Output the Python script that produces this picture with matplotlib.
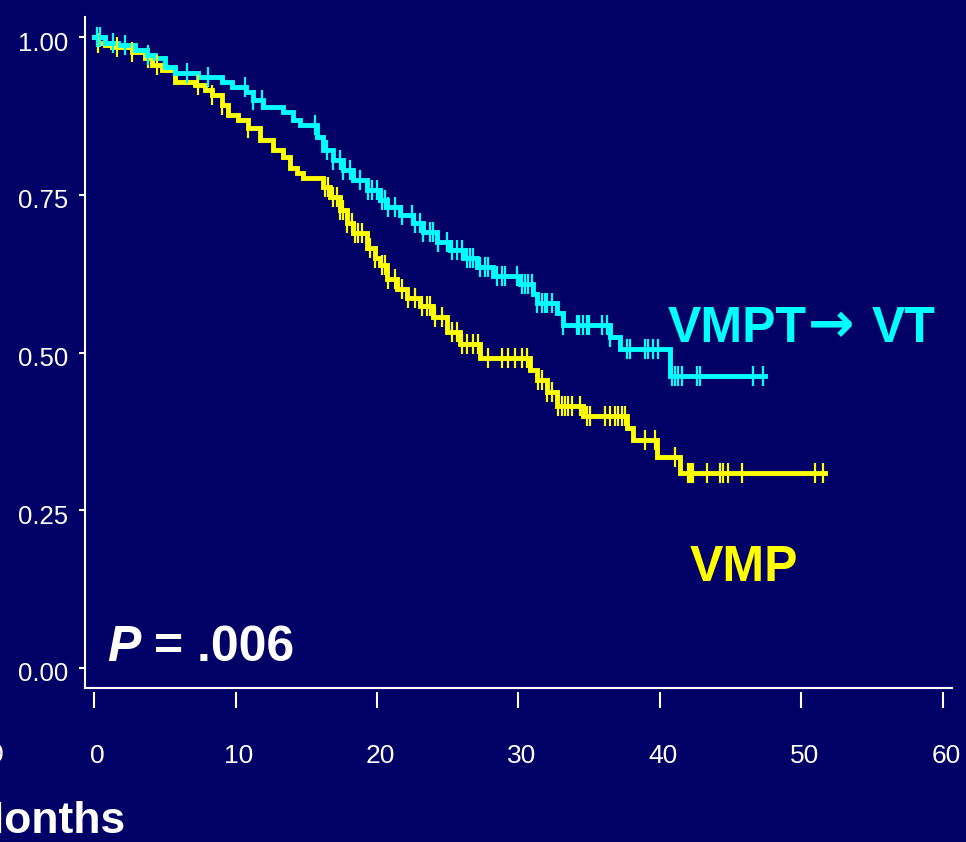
import numpy as np
import matplotlib.pyplot as plt
from matplotlib.transforms import ScaledTranslation

plt.rcParams['font.family'] = ['Liberation Sans', 'DejaVu Sans']

# VMPT -> VT arm: step times (months) and survival after each step
vmpt_times = [0, 0.78, 1.70, 2.90, 3.75, 4.31, 5.02, 5.72, 7.35, 9.05, 9.75, 10.74,
              11.24, 11.94, 13.36, 14.06, 14.56, 15.76, 16.18, 16.89, 17.60, 18.30,
              19.29, 20.21, 20.71, 21.63, 22.54, 23.25, 24.24, 25.16, 26.08, 27.07,
              28.20, 30.11, 31.02, 31.31, 32.72, 33.14, 36.47, 37.17, 40.71]
vmpt_surv = [1.0, 0.990, 0.987, 0.979, 0.972, 0.967, 0.953, 0.943, 0.937, 0.929, 0.921, 0.913,
             0.900, 0.889, 0.881, 0.869, 0.861, 0.842, 0.821, 0.805, 0.790, 0.774,
             0.758, 0.742, 0.731, 0.718, 0.706, 0.691, 0.676, 0.663, 0.650, 0.636,
             0.622, 0.608, 0.592, 0.579, 0.563, 0.544, 0.525, 0.505, 0.462]
vmpt_end = 47.42
vmpt_censor = [0.21, 0.42, 1.34, 2.19, 3.82, 6.57, 8.06, 10.67, 11.24, 11.87, 15.62, 16.47,
               16.89, 17.39, 17.60, 18.09, 18.80, 19.36, 19.65, 20.00, 20.35, 20.57, 20.78,
               21.27, 21.77, 22.47, 22.69, 23.04, 23.25, 23.75, 23.96, 24.31, 24.95, 25.30,
               25.65, 26.01, 26.36, 26.57, 26.78, 27.28, 27.63, 27.84, 28.48, 28.83, 29.05,
               29.89, 30.25, 30.46, 30.67, 30.95, 31.31, 31.66, 31.87, 32.01, 32.37, 33.14,
               34.13, 34.28, 34.56, 34.84, 34.98, 35.90, 36.25, 36.47, 37.67, 37.88, 38.94,
               39.15, 39.51, 39.86, 40.85, 41.06, 41.27, 41.55, 42.61, 42.83, 46.57, 47.28]

# VMP arm
vmp_times = [0, 0.28, 0.78, 1.27, 2.69, 3.60, 4.10, 4.81, 5.72, 7.14, 7.84, 8.34, 9.05,
             9.47, 10.18, 10.88, 11.73, 12.65, 13.36, 13.85, 14.35, 14.77, 16.18, 16.68,
             17.39, 17.88, 18.30, 19.29, 19.86, 20.21, 20.71, 21.41, 22.12, 23.04, 23.96,
             24.95, 25.87, 27.28, 30.81, 31.31, 32.01, 32.72, 34.56, 37.67, 38.09, 39.79,
             41.41]
vmp_surv = [1.0, 0.990, 0.987, 0.984, 0.976, 0.967, 0.956, 0.948, 0.929, 0.924, 0.916,
            0.908, 0.892, 0.877, 0.869, 0.856, 0.837, 0.821, 0.810, 0.793, 0.785, 0.777,
            0.763, 0.747, 0.726, 0.706, 0.690, 0.666, 0.650, 0.639, 0.616, 0.600, 0.587,
            0.573, 0.557, 0.532, 0.513, 0.492, 0.473, 0.457, 0.438, 0.415, 0.399, 0.381,
            0.362, 0.335, 0.309]
vmp_end = 51.66
vmp_censor = [0.28, 1.63, 2.69, 3.82, 4.45, 7.35, 8.34, 9.05, 10.88, 16.33, 16.54, 16.89,
              17.17, 17.39, 17.60, 17.88, 18.23, 18.45, 18.66, 18.94, 19.51, 19.86, 20.35,
              20.57, 20.78, 21.27, 21.77, 22.19, 22.69, 23.18, 23.53, 23.75, 24.10, 24.59,
              25.30, 25.65, 26.01, 26.36, 26.78, 27.14, 27.84, 28.83, 29.26, 29.75, 30.25,
              30.60, 31.38, 31.66, 32.01, 32.37, 32.79, 33.07, 33.29, 33.50, 33.78, 34.35,
              34.84, 35.05, 36.11, 36.47, 36.82, 37.03, 37.31, 37.53, 38.94, 39.65, 41.06,
              41.98, 42.12, 42.26, 42.33, 43.32, 44.24, 44.45, 44.81, 45.80, 50.95, 51.52]

x_ticks = [0, 10, 20, 30, 40, 50, 60]
y_ticks = [0.0, 0.25, 0.50, 0.75, 1.0]
y_labels = ['0.00', '0.25', '0.50', '0.75', '1.00']

bg = '#000066'
fig = plt.figure(figsize=(9.66, 8.42), dpi=100, facecolor=bg)
ax = fig.add_axes([85 / 966, 154 / 842, 867 / 966, 671 / 842], facecolor=bg)


def km_curve(times, surv, end, censor, color):
    t = np.append(times, end)
    s = np.append(surv, surv[-1])
    ax.step(t, s, where='post', color=color, lw=3.5, solid_joinstyle='miter', zorder=3)
    idx = np.searchsorted(times, censor, side='right') - 1
    ax.plot(censor, np.asarray(surv)[idx], ls='none', marker='|', ms=15, mew=1.6,
            color=color, zorder=4)


km_curve(vmp_times, vmp_surv, vmp_end, vmp_censor, '#ffff00')
km_curve(vmpt_times, vmpt_surv, vmpt_end, vmpt_censor, '#00ffff')

ax.set_xlim(-0.64, 60.64)
ax.set_ylim(-0.032, 1.032)

for side in ['top', 'right']:
    ax.spines[side].set_visible(False)
ax.spines['left'].set_color('white')
ax.spines['left'].set_linewidth(1.5)
# x ticks hang slightly below the baseline
ax.spines['bottom'].set_position(('outward', 3))
ax.spines['bottom'].set_visible(False)
ax.plot([0, 1], [0, 0], transform=ax.transAxes, color='white', lw=1.5, clip_on=False)

ax.set_yticks(y_ticks)
ax.set_yticklabels(y_labels)
ax.set_xticks(x_ticks)
ax.tick_params(axis='y', colors='white', length=4, width=1.5, pad=8, labelsize=18.5)
ax.tick_params(axis='x', colors='white', length=11.5, width=1.5, pad=26, labelsize=19)
for lab in ax.get_yticklabels():
    lab.set_transform(lab.get_transform() + ScaledTranslation(0, -0.04, fig.dpi_scale_trans))
for lab in ax.get_xticklabels():
    lab.set_transform(lab.get_transform() + ScaledTranslation(0.03, 0, fig.dpi_scale_trans))

# group labels
cyan_kw = dict(color='#00ffff', fontsize=36, fontweight='bold', va='baseline')
ax.text(40.57, 0.516, 'VMPT', ha='left', **cyan_kw)
ax.text(52.08, 0.516, '\u2192', ha='center', family='DejaVu Sans',
        **{**cyan_kw, 'fontsize': 40})
ax.text(54.98, 0.516, 'VT', ha='left', **cyan_kw)
ax.text(42.1, 0.138, 'VMP', color='#ffff00', fontsize=36, fontweight='bold',
        ha='left', va='baseline')

# log-rank p value
p_txt = ax.text(0.92, 0.011, 'P', color='white', fontsize=36, fontweight='bold',
                fontstyle='italic', ha='left', va='baseline')
ax.annotate(' = .006', xy=(1, 0), xycoords=p_txt, color='white', fontsize=36,
            fontweight='bold', ha='left', va='bottom')

fig.text(125 / 966, 9 / 842, 'Months', color='white', fontsize=32, fontweight='bold',
         ha='right', va='baseline')
fig.text(4 / 966, (842 - 755) / 842, '0', color='white', fontsize=19, ha='right', va='center')

fig.savefig('out.png', dpi=100, facecolor=bg)
